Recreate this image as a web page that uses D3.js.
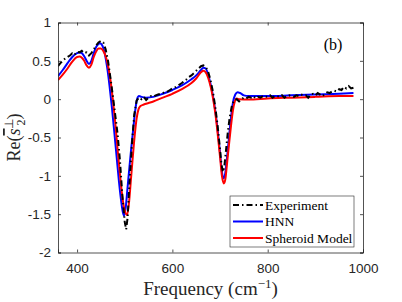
<!DOCTYPE html>
<html><head><meta charset="utf-8">
<script src="https://cdn.jsdelivr.net/npm/d3@7"></script>
<style>body{margin:0;background:#fff}svg{display:block}</style>
</head><body><div id="c"></div>
<script>
const expFreq = [360,365,370,375,380,385,390,395,400,405,410,415,420,425,430,435,440,445,450,455,460,465,470,475,480,485,490,495,500,503,506,510,515,520,525,530,535,540,545,550,555,560,565,570,575,580,585,590,595,600,605,610,615,620,625,630,635,640,645,650,655,660,665,670,675,680,685,690,695,700,703,706,709,712,716,720,725,730,735,740,745,750,755,760,765,770,775,780,785,790,795,800,805,810,815,820,825,830,835,840,845,850,855,860,865,870,875,880,885,890,895,900,905,910,915,920,925,930,935,940,945,950,955,960,965,970,975,980];
const expVal = [0.43,0.47,0.50,0.53,0.55,0.57,0.60,0.58,0.62,0.61,0.63,0.60,0.61,0.57,0.60,0.65,0.70,0.74,0.76,0.74,0.65,0.50,0.28,0.05,-0.20,-0.45,-0.80,-1.25,-1.60,-1.70,-1.55,-1.10,-0.60,-0.20,-0.02,0.02,0.00,0.03,-0.01,0.02,0.04,0.03,0.05,0.06,0.07,0.08,0.10,0.10,0.12,0.14,0.15,0.17,0.19,0.21,0.24,0.26,0.29,0.31,0.34,0.37,0.40,0.43,0.44,0.42,0.36,0.25,0.10,-0.10,-0.35,-0.65,-0.85,-0.95,-0.88,-0.70,-0.45,-0.25,-0.08,-0.01,0.00,-0.03,0.00,0.02,0.01,0.03,0.02,0.04,0.01,0.03,0.02,0.04,0.03,0.03,0.05,0.02,0.04,0.04,0.03,0.05,0.02,0.04,0.05,0.04,0.03,0.05,0.04,0.06,0.05,0.05,0.02,0.06,0.07,0.05,0.08,0.06,0.04,0.07,0.09,0.08,0.10,0.11,0.10,0.13,0.12,0.16,0.14,0.17,0.14,0.15];

const hnnFreq = [360,370,380,390,400,405,410,415,420,425,430,435,440,445,448,453,458,463,468,473,478,483,488,493,498,502,506,510,514,518,522,526,530,535,545,560,580,600,620,640,650,660,665,670,675,680,685,690,695,700,704,707,710,714,718,722,727,732,737,742,750,760,800,850,900,950,980];
const hnnVal = [0.30,0.38,0.47,0.55,0.60,0.61,0.60,0.56,0.50,0.46,0.50,0.60,0.68,0.72,0.73,0.70,0.60,0.42,0.18,-0.10,-0.42,-0.75,-1.08,-1.35,-1.52,-1.42,-1.15,-0.88,-0.62,-0.38,-0.15,0.00,0.04,0.03,0.02,0.03,0.07,0.12,0.18,0.26,0.31,0.38,0.41,0.40,0.32,0.20,0.05,-0.15,-0.40,-0.70,-0.95,-1.03,-1.00,-0.80,-0.55,-0.30,-0.05,0.06,0.09,0.08,0.05,0.04,0.04,0.05,0.06,0.07,0.08];

const sphFreq = [360,370,380,390,400,405,410,415,420,425,430,435,440,445,450,455,460,465,470,475,480,485,490,495,500,505,509,513,517,521,525,529,533,540,550,560,580,600,620,640,650,660,665,670,675,680,685,690,695,700,704,708,711,715,719,723,727,731,735,740,760,800,850,900,950,980];
const sphVal = [0.25,0.32,0.40,0.49,0.55,0.555,0.54,0.50,0.44,0.41,0.45,0.55,0.62,0.66,0.66,0.63,0.56,0.44,0.25,0.00,-0.30,-0.65,-0.98,-1.27,-1.45,-1.51,-1.35,-1.05,-0.75,-0.47,-0.25,-0.13,-0.09,-0.07,-0.05,-0.03,0.02,0.07,0.13,0.21,0.27,0.35,0.37,0.35,0.28,0.17,0.02,-0.18,-0.45,-0.75,-1.00,-1.10,-1.05,-0.82,-0.58,-0.35,-0.15,-0.03,0.01,0.00,-0.005,0.01,0.02,0.03,0.04,0.04];

const xTicks = [400,600,800,1000];
const yTicks = [1,0.5,0,-0.5,-1,-1.5,-2];
const legendLabels = ["Experiment","HNN","Spheroid Model"];

const W=402,H=302;
const m={l:58,r:39,t:22.5,b:49.5};
const x=d3.scaleLinear().domain([360,1000]).range([m.l,W-m.r]);
const y=d3.scaleLinear().domain([-2,1]).range([H-m.b,m.t]);
const ax="#262626";
const svg=d3.select("#c").append("svg").attr("width",W).attr("height",H);

const clip=svg.append("clipPath").attr("id","cp").append("rect")
 .attr("x",m.l).attr("y",m.t).attr("width",W-m.r-m.l).attr("height",H-m.b-m.t);

const line=d3.line().x(d=>x(d[0])).y(d=>y(d[1]));
const g=svg.append("g").attr("clip-path","url(#cp)");
g.append("path").datum(d3.zip(hnnFreq,hnnVal)).attr("d",line.curve(d3.curveMonotoneX))
 .attr("fill","none").attr("stroke","#0000ff").attr("stroke-width",2);
g.append("path").datum(d3.zip(sphFreq,sphVal)).attr("d",line.curve(d3.curveMonotoneX))
 .attr("fill","none").attr("stroke","#ff0000").attr("stroke-width",2);
g.append("path").datum(d3.zip(expFreq,expVal)).attr("d",line.curve(d3.curveLinear))
 .attr("fill","none").attr("stroke","#000").attr("stroke-width",2).attr("stroke-dasharray","6,3,1.5,3");

// axes
const fs="Liberation Sans, Arial, sans-serif";
const xb=svg.append("g").attr("transform",`translate(0,${H-m.b})`).call(d3.axisBottom(x).tickValues(xTicks).tickSize(-3).tickPadding(8).tickFormat(d3.format("d")));
const xt=svg.append("g").attr("transform",`translate(0,${m.t})`).call(d3.axisTop(x).tickValues(xTicks).tickSize(-3).tickFormat(""));
const yl=svg.append("g").attr("transform",`translate(${m.l},0)`).call(d3.axisLeft(y).tickValues(yTicks).tickSize(-3).tickPadding(7).tickFormat(d=>d3.format("")(d).replace("−","-")));
const yr=svg.append("g").attr("transform",`translate(${W-m.r},0)`).call(d3.axisRight(y).tickValues(yTicks).tickSize(-3).tickFormat(""));
[xb,xt,yl,yr].forEach(a=>{a.selectAll("path").attr("stroke",ax).attr("stroke-width",0.8);a.selectAll("line").attr("stroke",ax).attr("stroke-width",0.8);
 a.selectAll("text").attr("fill",ax).attr("font-family",fs).attr("font-size",13.5);});
xb.selectAll("text").attr("dy","0.9em");

// labels
const serif="Liberation Serif, Times New Roman, serif";
const xlab=svg.append("text").attr("x",(m.l+W-m.r)/2).attr("y",295).attr("text-anchor","middle")
 .attr("font-family",serif).attr("font-size",19).attr("fill",ax);
xlab.append("tspan").text("Frequency (cm");
xlab.append("tspan").attr("font-size",13).attr("dy",-7).text("−1");
xlab.append("tspan").attr("dy",7).text(")");

const ylab=svg.append("text").attr("transform",`translate(20,${(m.t+H-m.b)/2}) rotate(-90)`).attr("text-anchor","middle")
 .attr("font-family",serif).attr("font-size",18).attr("fill",ax);
ylab.append("tspan").text("Re(");
ylab.append("tspan").attr("font-style","italic").attr("text-decoration","overline").text("s");
ylab.append("tspan").attr("font-size",12).attr("dy",-7).text("⊥");
ylab.append("tspan").attr("font-size",12).attr("dx",-7).attr("dy",12).text("2");
ylab.append("tspan").attr("dy",-5).text(")");

svg.append("text").attr("x",333).attr("y",50).attr("text-anchor","middle").attr("font-family",serif)
 .attr("font-size",16).attr("fill","#000").text("(b)");

// legend
const lg=svg.append("g");
lg.append("rect").attr("x",230).attr("y",196).attr("width",124).attr("height",51)
 .attr("fill","#fff").attr("stroke",ax).attr("stroke-width",0.6);
const cols=["#000","#0000ff","#ff0000"];
legendLabels.forEach((t,i)=>{
 const yy=205+i*16.5;
 lg.append("line").attr("x1",233).attr("x2",263).attr("y1",yy).attr("y2",yy).attr("stroke",cols[i]).attr("stroke-width",2)
  .attr("stroke-dasharray",i==0?"6,3,1.5,3":null);
 lg.append("text").attr("x",265).attr("y",yy).attr("dy","0.35em").attr("font-family",serif).attr("font-size",13.5)
  .attr("fill","#000").text(t);
});
</script></body></html>
